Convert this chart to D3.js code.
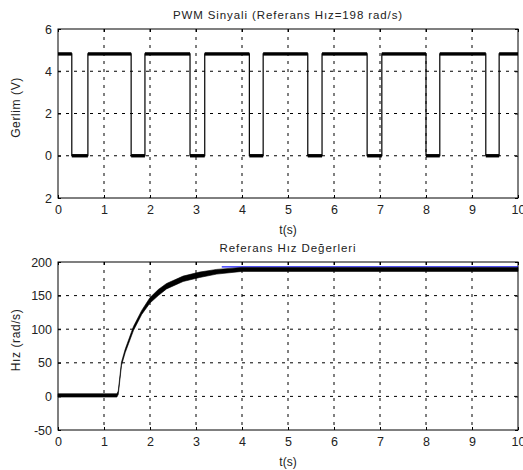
<!DOCTYPE html>
<html>
<head>
<meta charset="utf-8">
<script src="https://cdn.jsdelivr.net/npm/d3@7"></script>
<style>
body { margin: 0; background: #fff; }
svg text { font-family: "Liberation Sans", Arial, sans-serif; fill: #222; }
.grid line { stroke: #000; stroke-dasharray: 3,5; stroke-width: 1; }
</style>
</head>
<body>
<div id="graph"></div>
<script>
// time axis ticks (shared)
var xTicks = [0, 1, 2, 3, 4, 5, 6, 7, 8, 9, 10];

// PWM panel
var pwmTicks = [-2, 0, 2, 4, 6];
var pwmTickLabels = ["2", "0", "2", "4", "6"];
var pwmEdges = [0.30, 0.65, 1.59, 1.89, 2.87, 3.19, 4.16, 4.46, 5.43, 5.74, 6.72, 7.04, 8.0, 8.3, 9.3, 9.59];
var pwmLevels = [0, 4.82]; // low, high
var pwmNoise = 0.08;

// speed panel
var speedTicks = [-50, 0, 50, 100, 150, 200];
var speedT  = [0, 1.28, 1.31, 1.38, 1.46, 1.64, 1.82, 2.0, 2.18, 2.36, 2.72, 3.08, 3.45, 4.0, 10];
var speedLo = [-1, -1, 3, 46, 65, 98, 122, 139, 150, 160, 171, 177, 182, 186, 186];
var speedHi = [4, 4, 8, 51, 70, 104, 128, 147, 159, 168, 179, 185, 189, 192, 192];
var refT = [3.56, 10];
var refVal = 192.8;

var width = 523, height = 470;
var svg = d3.select("#graph").append("svg")
    .attr("width", width)
    .attr("height", height);

var x = d3.scaleLinear().domain([0, 10]).range([58, 518]);

function panel(top, bottom, yDomain, yTicks, yLabels, title, ylabel) {
    var y = d3.scaleLinear().domain(yDomain).range([bottom, top]);
    var g = svg.append("g");

    // grid
    var grid = g.append("g").attr("class", "grid");
    grid.selectAll("line.v")
	.data(xTicks.slice(1, -1))
	.enter().append("line")
	.attr("x1", d => x(d)).attr("x2", d => x(d))
	.attr("y1", top).attr("y2", bottom);
    grid.selectAll("line.h")
	.data(yTicks.slice(1, -1))
	.enter().append("line")
	.attr("x1", x(0)).attr("x2", x(10))
	.attr("y1", d => y(d)).attr("y2", d => y(d));

    // axes
    var xa = g.append("g")
	.attr("transform", "translate(0," + bottom + ")")
	.call(d3.axisBottom(x).tickValues(xTicks).tickSize(-3).tickPadding(7));
    var xt = g.append("g")
	.attr("transform", "translate(0," + top + ")")
	.call(d3.axisTop(x).tickValues(xTicks).tickSize(-3).tickFormat(""));
    var ya = g.append("g")
	.attr("transform", "translate(" + x(0) + ",0)")
	.call(d3.axisLeft(y).tickValues(yTicks).tickSize(-3).tickPadding(6)
	      .tickFormat((d, i) => yLabels ? yLabels[i] : d));
    var yr = g.append("g")
	.attr("transform", "translate(" + x(10) + ",0)")
	.call(d3.axisRight(y).tickValues(yTicks).tickSize(-3).tickFormat(""));
    [xa, xt, ya, yr].forEach(function(a) {
	a.select(".domain").remove();
	a.selectAll("line").attr("stroke", "#000");
	a.selectAll("text").style("font-size", "12.5px").attr("fill", "#222");
    });

    g.append("rect")
	.attr("x", x(0)).attr("y", top)
	.attr("width", x(10) - x(0)).attr("height", bottom - top)
	.attr("fill", "none").attr("stroke", "#000").attr("stroke-width", 1);

    g.append("text")
	.attr("x", (x(0) + x(10)) / 2).attr("y", top - 10)
	.attr("text-anchor", "middle")
	.style("font-size", "11.5px")
	.style("letter-spacing", "0.9px")
	.text(title);

    g.append("text")
	.attr("x", (x(0) + x(10)) / 2).attr("y", bottom + 36)
	.attr("text-anchor", "middle")
	.style("font-size", "12px")
	.text("t(s)");

    g.append("text")
	.attr("transform", "translate(" + 20 + "," + ((top + bottom) / 2 - 6) + ") rotate(-90)")
	.attr("text-anchor", "middle")
	.style("font-size", "12px")
	.style("letter-spacing", "0.6px")
	.text(ylabel);

    return {g: g, y: y};
}

// ---- top panel: PWM signal
var p1 = panel(29, 198, [-2, 6], pwmTicks, pwmTickLabels,
	       "PWM Sinyali (Referans Hız=198 rad/s)", "Gerlim (V)");

var bounds = [0].concat(pwmEdges).concat([10]);
var segs = [];
for (var i = 0; i < bounds.length - 1; i++) {
    segs.push({t0: bounds[i], t1: bounds[i + 1], v: pwmLevels[(i + 1) % 2]});
}
var stepPts = [];
segs.forEach(s => { stepPts.push([s.t0, s.v]); stepPts.push([s.t1, s.v]); });

p1.g.append("path")
    .datum(stepPts)
    .attr("fill", "none")
    .attr("stroke", "#000")
    .attr("stroke-width", 1.2)
    .attr("d", d3.line().x(d => x(d[0])).y(d => p1.y(d[1])));

p1.g.selectAll("rect.band")
    .data(segs)
    .enter().append("rect")
    .attr("class", "band")
    .attr("x", d => x(d.t0))
    .attr("width", d => x(d.t1) - x(d.t0))
    .attr("y", d => p1.y(d.v + pwmNoise))
    .attr("height", d => p1.y(d.v - pwmNoise) - p1.y(d.v + pwmNoise))
    .attr("fill", "#000");

// ---- bottom panel: speed
var p2 = panel(262, 430, [-50, 200], speedTicks, null,
	       "Referans Hız Değerleri", "Hız (rad/s)");

p2.g.append("line")
    .attr("x1", x(refT[0])).attr("x2", x(refT[1]))
    .attr("y1", p2.y(refVal)).attr("y2", p2.y(refVal))
    .attr("stroke", "#1a1aff")
    .attr("stroke-width", 1.3);

var speedRows = speedT.map((t, i) => ({t: t, lo: speedLo[i], hi: speedHi[i]}));
p2.g.append("path")
    .datum(speedRows)
    .attr("fill", "#000")
    .attr("stroke", "#000")
    .attr("stroke-width", 0.6)
    .attr("d", d3.area().x(d => x(d.t)).y0(d => p2.y(d.lo)).y1(d => p2.y(d.hi)));
</script>
</body>
</html>
